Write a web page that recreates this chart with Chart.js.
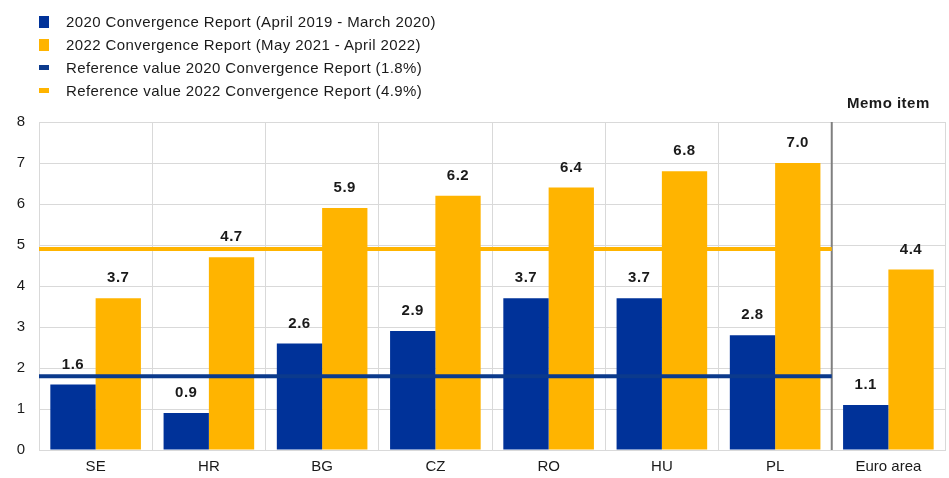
<!DOCTYPE html>
<html>
<head>
<meta charset="utf-8">
<script src="https://cdn.jsdelivr.net/npm/chart.js@4.4.1/dist/chart.umd.min.js"></script>
<style>
  body { margin: 0; background: #fff; }
  #wrap { position: relative; width: 949px; height: 478px; }
  #legend {
    position: absolute;
    left: 39px;
    top: 10px;
    font: 15px Arial, "Liberation Sans", sans-serif;
    letter-spacing: 0.4px;
    color: #1a1a1a;
  }
  .item { height: 23px; display: flex; align-items: center; }
  .swatch { width: 10px; margin-right: 17px; }
  .box { height: 12px; }
  .bar { height: 5px; }
</style>
</head>
<body>
<div id="wrap">
  <canvas id="chart" width="949" height="478"></canvas>
  <div id="legend"></div>
</div>
<script>
const categories = ["SE", "HR", "BG", "CZ", "RO", "HU", "PL", "Euro area"];
const report2020 = [1.6, 0.9, 2.6, 2.9, 3.7, 3.7, 2.8, 1.1];
const report2022 = [3.7, 4.7, 5.9, 6.2, 6.4, 6.8, 7.0, 4.4];
const refValue2020 = 1.8;
const refValue2022 = 4.9;
const countriesCount = 7; // reference lines only cover the countries, not the euro area
const memoText = "Memo item";

const BLUE = "#003299";
const YELLOW = "#ffb400";
const LINE_BLUE = "#0b3a8c";
const GRID = "#d9d9d9";
const FONT = 'Arial, "Liberation Sans", sans-serif';

const labels2020 = "2020 Convergence Report (April 2019 - March 2020)";
const labels2022 = "2022 Convergence Report (May 2021 - April 2022)";
const labelRef2020 = "Reference value 2020 Convergence Report (1.8%)";
const labelRef2022 = "Reference value 2022 Convergence Report (4.9%)";

const refLines = [
  { value: refValue2020, color: LINE_BLUE },
  { value: refValue2022, color: YELLOW },
];

function buildLegend() {
  const legend = document.getElementById("legend");
  const items = [
    [labels2020, BLUE, "box"],
    [labels2022, YELLOW, "box"],
    [labelRef2020, LINE_BLUE, "bar"],
    [labelRef2022, YELLOW, "bar"],
  ];
  items.forEach(([text, color, kind]) => {
    const row = document.createElement("div");
    row.classList.add("item");
    const sw = document.createElement("div");
    sw.classList.add("swatch", kind);
    sw.style.background = color;
    const span = document.createElement("span");
    span.textContent = text;
    row.appendChild(sw);
    row.appendChild(span);
    legend.appendChild(row);
  });
}

// separator, reference lines, value labels and "Memo item" header
const extras = {
  id: "extras",
  beforeDatasetsDraw(chart) {
    const { ctx, chartArea, scales } = chart;
    const x = scales.x;
    const sepX = (x.getPixelForValue(countriesCount - 1) + x.getPixelForValue(countriesCount)) / 2;
    ctx.save();
    ctx.strokeStyle = "#7f7f7f";
    ctx.lineWidth = 2;
    ctx.beginPath();
    ctx.moveTo(sepX, chartArea.top);
    ctx.lineTo(sepX, chartArea.bottom);
    ctx.stroke();
    ctx.restore();
  },
  afterDatasetsDraw(chart) {
    const { ctx, chartArea, scales } = chart;
    const x = scales.x;
    const y = scales.y;
    const endX = (x.getPixelForValue(countriesCount - 1) + x.getPixelForValue(countriesCount)) / 2;

    ctx.save();
    ctx.lineWidth = 4;
    refLines.forEach((ref) => {
      const py = y.getPixelForValue(ref.value);
      ctx.strokeStyle = ref.color;
      ctx.beginPath();
      ctx.moveTo(chartArea.left, py);
      ctx.lineTo(endX, py);
      ctx.stroke();
    });

    ctx.font = "bold 15px " + FONT;
    ctx.letterSpacing = "0.5px";
    ctx.fillStyle = "#1a1a1a";
    ctx.textAlign = "center";
    ctx.textBaseline = "middle";
    [0, 1].forEach((i) => {
      const meta = chart.getDatasetMeta(i);
      meta.data.forEach((bar, j) => {
        const v = chart.data.datasets[i].data[j];
        ctx.fillText(v.toFixed(1), bar.x, bar.y - 20);
      });
    });
    ctx.fillText(memoText, x.getPixelForValue(countriesCount), chartArea.top - 18);
    ctx.restore();
  },
};

buildLegend();

new Chart(document.getElementById("chart"), {
  type: "bar",
  data: {
    labels: categories,
    datasets: [
      {
        label: labels2020,
        data: report2020,
        backgroundColor: BLUE,
        categoryPercentage: 0.8,
        barPercentage: 1.0,
      },
      {
        label: labels2022,
        data: report2022,
        backgroundColor: YELLOW,
        categoryPercentage: 0.8,
        barPercentage: 1.0,
      },
    ],
  },
  options: {
    responsive: false,
    animation: false,
    layout: { padding: { top: 122, right: 4, left: 0, bottom: 0 } },
    plugins: {
      legend: { display: false },
      tooltip: { enabled: false },
    },
    scales: {
      x: {
        grid: { offset: true, color: GRID, drawTicks: false },
        border: { color: GRID },
        ticks: { color: "#1a1a1a", font: { size: 15, family: FONT }, padding: 8 },
        afterFit: (scale) => { scale.height = 28; },
      },
      y: {
        min: 0,
        max: 8,
        ticks: { stepSize: 1, color: "#1a1a1a", font: { size: 15, family: FONT }, padding: 14 },
        grid: { color: GRID, drawTicks: false },
        border: { color: GRID },
        afterFit: (scale) => { scale.width = 39; },
      },
    },
  },
  plugins: [extras],
});
</script>
</body>
</html>
